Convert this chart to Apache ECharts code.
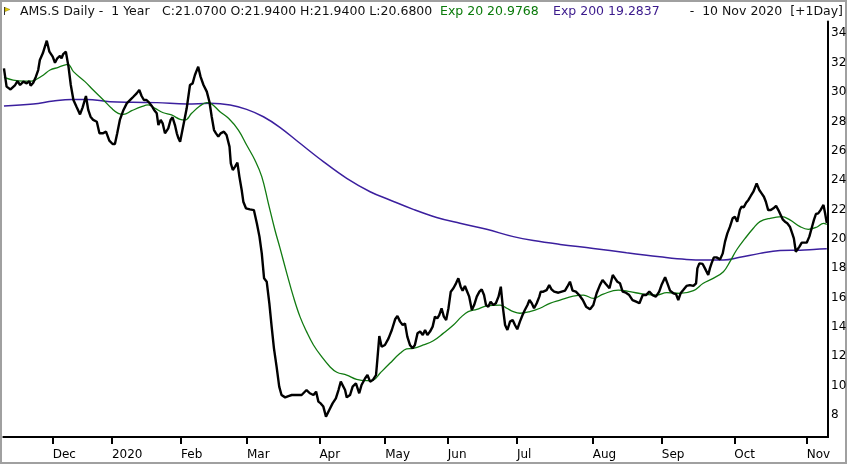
<!DOCTYPE html>
<html>
<head>
<meta charset="utf-8">
<script src="https://cdn.jsdelivr.net/npm/echarts@6/dist/echarts.min.js"></script>
<style>
html, body { margin: 0; padding: 0; background: #fff; }
#chart { width: 850px; height: 465px; }
</style>
</head>
<body>
<div id="chart"></div>
<script>
// x = trading day index from 11 Nov 2019 (0) to 10 Nov 2020 (250), +1 day padding
var monthTicks = [15, 33, 54, 74, 96, 116, 135, 156, 179, 200, 222, 244];
var monthLabels = ['Dec', '2020', 'Feb', 'Mar', 'Apr', 'May', 'Jun', 'Jul', 'Aug', 'Sep', 'Oct', 'Nov'];
var priceTicks = [8, 10, 12, 14, 16, 18, 20, 22, 24, 26, 28, 30, 32, 34];

var headerLeft = ['AMS.S Daily -  1 Year', 'C:21.0700 O:21.9400 H:21.9400 L:20.6800'];
var headerExp = ['Exp 20 20.9768', 'Exp 200 19.2837'];
var headerRight = '-  10 Nov 2020  [+1Day]';

var closePrice = [
  [0.2,31.61],[1.0,30.37],[2.2,30.18],[3.6,30.48],[4.3,30.75],[5.1,30.48],[6.1,30.71],[7.1,30.59],[7.9,30.75],[8.3,30.43],
  [9.1,30.64],[9.9,31.05],[10.6,31.50],[11.1,32.18],[12.0,32.64],[13.2,33.50],[14.0,32.75],[15.0,32.41],[15.7,32.00],[16.4,32.30],
  [17.2,32.46],[17.7,32.30],[18.2,32.59],[19.0,32.75],[19.8,31.73],[20.5,30.48],[21.3,29.46],[22.3,28.96],[23.3,28.48],[24.1,28.96],
  [25.1,29.73],[25.8,28.78],[26.5,28.32],[27.3,28.10],[28.4,27.98],[29.2,27.19],[30.2,27.19],[31.2,27.30],[32.2,26.69],[33.2,26.46],
  [33.9,26.46],[34.6,27.19],[35.4,28.10],[36.5,28.78],[37.5,29.23],[38.7,29.50],[39.5,29.68],[40.5,29.91],[41.3,30.14],[42.0,29.73],
  [42.7,29.46],[43.5,29.46],[44.3,29.28],[45.1,29.05],[45.8,28.78],[46.6,28.55],[47.1,27.75],[47.8,28.10],[48.4,27.87],[49.1,27.19],
  [50.1,27.53],[50.8,28.10],[51.4,28.28],[52.2,27.69],[52.7,27.19],[53.2,26.85],[53.7,26.62],[54.2,26.51],[54.9,27.98],[55.7,28.89],
  [56.7,30.48],[57.5,30.59],[58.2,31.16],[59.2,31.73],[59.9,31.05],[60.8,30.48],[61.8,30.03],[62.6,29.34],[63.3,28.32],[64.0,27.41],
  [64.6,27.19],[65.3,26.96],[66.0,27.19],[67.0,27.30],[67.8,27.07],[68.7,26.28],[69.1,25.14],[69.7,24.69],[70.4,24.92],[71.1,25.19],
  [71.7,24.24],[72.4,23.33],[72.9,22.53],[73.7,22.08],[74.9,22.01],[76.1,21.96],[77.0,21.06],[77.8,20.15],[78.5,19.01],[79.2,17.31],
  [80.0,17.08],[80.8,15.61],[81.5,14.02],[82.2,12.54],[83.0,11.29],[83.8,9.93],[84.5,9.36],[85.6,9.20],[86.6,9.29],[87.6,9.36],
  [89.1,9.36],[90.6,9.36],[92.1,9.70],[93.1,9.48],[94.2,9.36],[95.0,9.59],[95.7,8.91],[96.4,8.79],[97.2,8.57],[98.0,7.89],
  [99.0,8.34],[100.0,8.79],[101.0,9.13],[101.8,9.70],[102.5,10.27],[103.1,10.38],[103.8,9.70],[104.3,9.20],[105.3,9.36],[106.1,9.93],
  [107.1,10.16],[108.1,9.48],[108.8,10.04],[109.9,10.50],[110.6,10.72],[111.4,10.27],[112.2,10.38],[113.2,10.72],[113.6,11.75],[114.2,13.38],
  [114.9,12.65],[115.9,12.77],[117.0,13.22],[118.0,13.79],[119.0,14.52],[119.7,14.74],[120.5,14.36],[121.3,14.13],[122.0,14.24],[122.7,13.34],
  [123.5,12.77],[124.3,12.54],[125.0,12.77],[125.8,13.56],[126.6,13.68],[127.4,13.45],[128.1,13.79],[128.8,13.45],[129.6,13.68],[130.4,14.02],
  [131.1,14.70],[131.8,14.58],[132.4,14.81],[133.1,15.27],[133.8,14.70],[134.5,14.47],[135.2,15.27],[135.9,16.40],[136.7,16.63],[137.5,16.97],
  [138.2,17.31],[138.9,16.74],[139.5,16.47],[140.2,16.79],[140.9,16.40],[141.5,16.06],[142.3,15.15],[143.0,15.49],[143.8,16.06],[144.6,16.40],
  [145.3,16.56],[146.0,16.17],[146.6,15.49],[147.3,15.38],[148.0,15.72],[148.8,15.49],[149.6,15.61],[150.4,16.06],[151.1,16.74],[151.7,15.38],
  [152.4,14.13],[153.1,13.79],[153.9,14.36],[154.7,14.47],[155.4,14.13],[156.1,13.84],[156.9,14.36],[157.7,14.81],[158.4,15.15],[159.2,15.49],
  [159.8,15.83],[160.5,15.61],[161.2,15.27],[162.0,15.61],[162.8,16.06],[163.2,16.40],[164.0,16.40],[165.0,16.51],[165.8,16.85],[166.5,16.56],
  [167.3,16.40],[167.9,16.47],[168.6,16.33],[169.6,16.40],[170.6,16.47],[171.3,16.74],[172.1,17.08],[172.9,16.47],[173.9,16.40],[174.9,16.17],
  [176.0,15.83],[177.0,15.38],[178.2,15.20],[179.2,15.49],[180.2,16.29],[181.2,16.85],[182.0,17.20],[183.0,16.92],[184.1,16.63],[185.1,17.54],
  [185.8,17.31],[186.5,17.08],[187.3,16.97],[188.1,16.40],[189.1,16.33],[190.1,16.17],[191.1,15.83],[192.2,15.72],[193.2,15.61],[194.2,16.17],
  [195.2,16.17],[196.2,16.40],[197.2,16.17],[198.2,16.06],[199.2,16.40],[199.9,16.85],[201.0,17.38],[201.7,16.97],[202.5,16.47],[203.5,16.29],
  [204.3,16.24],[205.0,15.83],[205.7,16.29],[206.5,16.51],[207.5,16.79],[208.5,16.85],[209.6,16.79],[210.4,16.97],[210.8,17.99],[211.4,18.33],
  [212.4,18.29],[213.1,17.99],[214.1,17.54],[214.6,17.99],[215.1,18.33],[215.8,18.74],[216.6,18.74],[217.7,18.60],[218.5,19.01],[219.2,19.81],
  [219.9,20.37],[220.7,20.83],[221.5,21.40],[222.2,21.51],[222.9,21.17],[223.7,21.96],[224.2,22.19],[224.9,22.15],[225.6,22.46],[226.3,22.65],
  [227.0,22.92],[227.8,23.21],[228.8,23.78],[229.6,23.33],[230.3,23.10],[231.0,22.87],[231.6,22.53],[232.3,21.96],[233.1,21.96],[233.9,22.08],
  [234.7,22.24],[235.4,21.96],[236.1,21.62],[236.7,21.33],[237.4,21.17],[238.1,21.06],[238.9,20.83],[239.6,20.37],[240.1,20.03],[240.7,19.12],
  [241.2,19.01],[241.8,19.47],[242.5,19.74],[243.2,19.74],[244.0,19.74],[244.8,20.15],[245.5,20.72],[246.2,21.29],[246.8,21.69],[247.5,21.73],
  [248.2,21.96],[249.1,22.31],[249.6,21.73],[250.1,21.07]
];

var exp20 = [
  [0.2,31.00],[3.0,30.82],[6.1,30.75],[8.6,30.75],[10.1,30.87],[12.2,31.16],[14.2,31.50],[16.7,31.68],[19.6,31.89],[21.3,31.39],
  [24.8,30.71],[27.3,30.14],[30.4,29.46],[32.9,28.89],[34.9,28.55],[36.5,28.48],[39.0,28.73],[42.0,29.00],[44.0,29.12],[46.1,28.89],
  [48.6,28.59],[51.1,28.44],[53.7,28.14],[55.2,28.10],[57.2,28.55],[59.7,29.05],[61.8,29.28],[63.0,29.23],[65.8,28.66],[68.4,28.21],
  [71.4,27.41],[73.9,26.39],[76.4,25.37],[78.5,24.24],[80.5,22.42],[82.5,20.60],[84.0,19.40],[86.1,17.65],[88.1,16.06],[90.1,14.70],
  [92.1,13.68],[94.2,12.77],[96.7,11.97],[99.2,11.29],[101.3,10.91],[104.3,10.72],[107.3,10.43],[110.4,10.34],[112.4,10.38],[114.4,10.84],
  [117.4,11.52],[120.5,12.20],[122.5,12.50],[124.5,12.54],[127.6,12.77],[130.6,13.06],[133.6,13.56],[136.7,14.13],[139.2,14.70],[141.2,15.04],
  [143.8,15.20],[146.8,15.43],[150.9,15.49],[152.9,15.27],[154.9,15.04],[156.9,14.93],[159.9,15.04],[163.0,15.27],[166.0,15.61],[169.1,15.83],
  [173.1,16.10],[176.2,16.17],[179.2,15.95],[182.2,16.24],[186.8,16.51],[190.3,16.40],[194.4,16.24],[198.4,16.17],[201.5,16.33],[205.5,16.29],
  [209.6,16.47],[212.6,16.97],[215.6,17.31],[218.7,17.76],[220.7,18.45],[222.7,19.24],[225.3,20.03],[227.8,20.72],[229.8,21.17],[232.9,21.40],
  [236.4,21.51],[238.9,21.29],[242.0,20.83],[244.5,20.65],[247.0,20.79],[249.1,21.06],[250.1,20.98]
];

var exp200 = [
  [0.2,29.05],[9.1,29.18],[15.2,29.39],[20.8,29.50],[25.3,29.50],[32.4,29.34],[39.5,29.30],[46.6,29.28],[55.7,29.18],[62.8,29.23],
  [68.9,29.12],[73.9,28.82],[79.0,28.32],[84.0,27.60],[90.1,26.51],[97.2,25.26],[104.3,24.12],[111.4,23.21],[117.4,22.65],[124.5,22.01],
  [131.6,21.46],[138.7,21.06],[146.8,20.65],[154.9,20.15],[161.0,19.88],[169.1,19.62],[179.2,19.35],[189.3,19.05],[199.4,18.78],[207.5,18.60],
  [213.6,18.56],[218.7,18.56],[223.7,18.74],[229.8,19.01],[235.9,19.20],[242.0,19.23],[247.0,19.29],[250.1,19.32]
];

var FONT = 'DejaVu Sans';
var chart = echarts.init(document.getElementById('chart'));

var option = {
  animation: false,
  backgroundColor: '#fff',
  grid: { left: 3.3, right: 21.9, top: 21.6, bottom: 28 },
  xAxis: {
    type: 'value',
    min: 0,
    max: 250.5,
    axisLine: { show: true, onZero: false, lineStyle: { color: '#000', width: 2 } },
    axisTick: { show: true, customValues: monthTicks, length: 7, lineStyle: { color: '#000', width: 2 } },
    axisLabel: {
      customValues: monthTicks,
      align: 'left',
      margin: 12,
      color: '#000',
      fontFamily: FONT,
      fontSize: 12,
      formatter: function (v) { return monthLabels[monthTicks.indexOf(v)]; }
    },
    splitLine: { show: false }
  },
  yAxis: {
    type: 'value',
    position: 'right',
    min: 6.5,
    max: 34.8,
    axisLine: { show: true, onZero: false, lineStyle: { color: '#000', width: 2 } },
    axisTick: { show: false },
    axisLabel: {
      customValues: priceTicks,
      align: 'left',
      margin: 3,
      color: '#000',
      fontFamily: FONT,
      fontSize: 12
    },
    splitLine: { show: false }
  },
  series: [{
    name: 'Exp 200',
    type: 'line',
    data: exp200,
    smooth: 0.4,
    showSymbol: false,
    lineStyle: { color: '#3b1f9e', width: 1.5 },
    z: 2
  }, {
    name: 'Exp 20',
    type: 'line',
    data: exp20,
    smooth: 0.4,
    showSymbol: false,
    lineStyle: { color: '#117a11', width: 1.3 },
    z: 3
  }, {
    name: 'AMS.S',
    type: 'line',
    data: closePrice,
    showSymbol: false,
    lineStyle: { color: '#000', width: 2.4 },
    z: 4
  }],
  graphic: [
    { type: 'rect', shape: { x: 1, y: 1, width: 845, height: 462 }, style: { fill: 'none', stroke: '#a0a0a0', lineWidth: 2 }, silent: true },
    { type: 'line', shape: { x1: 4.5, y1: 7, x2: 4.5, y2: 15 }, style: { stroke: '#333', lineWidth: 1 } },
    { type: 'polygon', shape: { points: [[5, 7.5], [10, 9.5], [5, 11.5]] }, style: { fill: '#e6cc00', stroke: '#8a7a00', lineWidth: 0.5 } },
    { type: 'text', x: 20, y: 12, style: { text: headerLeft[0], fill: '#111', font: '12.5px ' + FONT, verticalAlign: 'middle' } },
    { type: 'text', x: 162, y: 12, style: { text: headerLeft[1], fill: '#111', font: '12.5px ' + FONT, verticalAlign: 'middle' } },
    { type: 'text', x: 440, y: 12, style: { text: headerExp[0], fill: '#0a7a0a', font: '12.5px ' + FONT, verticalAlign: 'middle' } },
    { type: 'text', x: 553, y: 12, style: { text: headerExp[1], fill: '#3b1a8c', font: '12.5px ' + FONT, verticalAlign: 'middle' } },
    { type: 'text', x: 843, y: 12, style: { text: headerRight, fill: '#111', font: '12.5px ' + FONT, align: 'right', verticalAlign: 'middle' } }
  ]
};

chart.setOption(option);
</script>
</body>
</html>
